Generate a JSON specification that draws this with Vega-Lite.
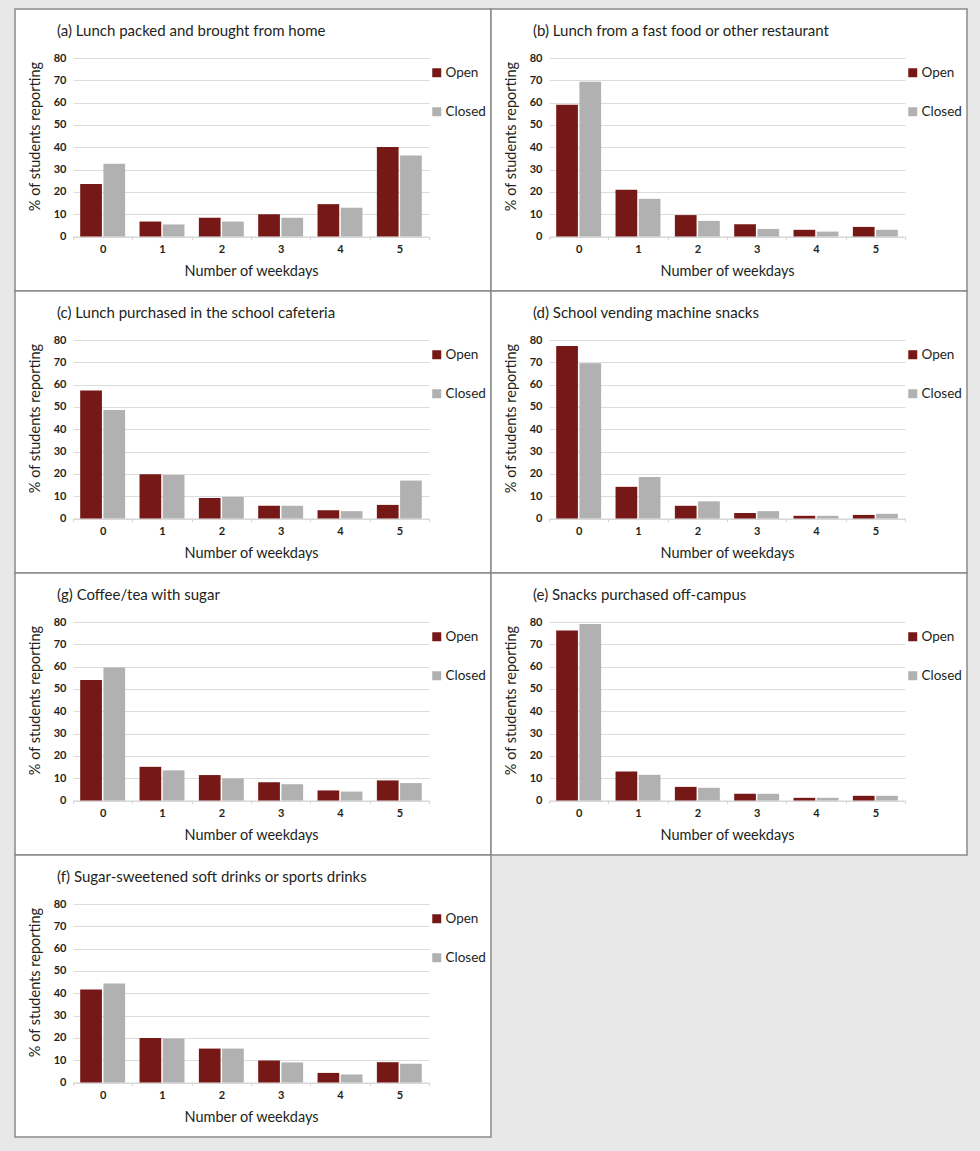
{
  "$schema": "https://vega.github.io/schema/vega-lite/v6.json",
  "padding": {"left": 14, "top": 8, "right": 14, "bottom": 15},
  "background": "#e8e8e8",
  "datasets": {
    "rows": [
      {"panel": "a", "days": "0", "status": "Open", "value": 23.5},
      {"panel": "a", "days": "0", "status": "Closed", "value": 32.6},
      {"panel": "a", "days": "1", "status": "Open", "value": 6.7},
      {"panel": "a", "days": "1", "status": "Closed", "value": 5.4},
      {"panel": "a", "days": "2", "status": "Open", "value": 8.4},
      {"panel": "a", "days": "2", "status": "Closed", "value": 6.7},
      {"panel": "a", "days": "3", "status": "Open", "value": 10.0},
      {"panel": "a", "days": "3", "status": "Closed", "value": 8.4},
      {"panel": "a", "days": "4", "status": "Open", "value": 14.5},
      {"panel": "a", "days": "4", "status": "Closed", "value": 12.9},
      {"panel": "a", "days": "5", "status": "Open", "value": 40.1},
      {"panel": "a", "days": "5", "status": "Closed", "value": 36.3},
      {"panel": "b", "days": "0", "status": "Open", "value": 59.0},
      {"panel": "b", "days": "0", "status": "Closed", "value": 69.4},
      {"panel": "b", "days": "1", "status": "Open", "value": 20.9},
      {"panel": "b", "days": "1", "status": "Closed", "value": 16.9},
      {"panel": "b", "days": "2", "status": "Open", "value": 9.6},
      {"panel": "b", "days": "2", "status": "Closed", "value": 7.0},
      {"panel": "b", "days": "3", "status": "Open", "value": 5.5},
      {"panel": "b", "days": "3", "status": "Closed", "value": 3.4},
      {"panel": "b", "days": "4", "status": "Open", "value": 3.0},
      {"panel": "b", "days": "4", "status": "Closed", "value": 2.2},
      {"panel": "b", "days": "5", "status": "Open", "value": 4.3},
      {"panel": "b", "days": "5", "status": "Closed", "value": 3.0},
      {"panel": "c", "days": "0", "status": "Open", "value": 57.4},
      {"panel": "c", "days": "0", "status": "Closed", "value": 48.6},
      {"panel": "c", "days": "1", "status": "Open", "value": 19.8},
      {"panel": "c", "days": "1", "status": "Closed", "value": 19.5},
      {"panel": "c", "days": "2", "status": "Open", "value": 9.2},
      {"panel": "c", "days": "2", "status": "Closed", "value": 9.7},
      {"panel": "c", "days": "3", "status": "Open", "value": 5.7},
      {"panel": "c", "days": "3", "status": "Closed", "value": 5.7},
      {"panel": "c", "days": "4", "status": "Open", "value": 3.7},
      {"panel": "c", "days": "4", "status": "Closed", "value": 3.3},
      {"panel": "c", "days": "5", "status": "Open", "value": 6.1},
      {"panel": "c", "days": "5", "status": "Closed", "value": 17.0},
      {"panel": "d", "days": "0", "status": "Open", "value": 77.3},
      {"panel": "d", "days": "0", "status": "Closed", "value": 69.6},
      {"panel": "d", "days": "1", "status": "Open", "value": 14.2},
      {"panel": "d", "days": "1", "status": "Closed", "value": 18.6},
      {"panel": "d", "days": "2", "status": "Open", "value": 5.7},
      {"panel": "d", "days": "2", "status": "Closed", "value": 7.7},
      {"panel": "d", "days": "3", "status": "Open", "value": 2.5},
      {"panel": "d", "days": "3", "status": "Closed", "value": 3.3},
      {"panel": "d", "days": "4", "status": "Open", "value": 1.2},
      {"panel": "d", "days": "4", "status": "Closed", "value": 1.2},
      {"panel": "d", "days": "5", "status": "Open", "value": 1.6},
      {"panel": "d", "days": "5", "status": "Closed", "value": 2.1},
      {"panel": "g", "days": "0", "status": "Open", "value": 54.0},
      {"panel": "g", "days": "0", "status": "Closed", "value": 59.6},
      {"panel": "g", "days": "1", "status": "Open", "value": 15.1},
      {"panel": "g", "days": "1", "status": "Closed", "value": 13.5},
      {"panel": "g", "days": "2", "status": "Open", "value": 11.4},
      {"panel": "g", "days": "2", "status": "Closed", "value": 9.9},
      {"panel": "g", "days": "3", "status": "Open", "value": 8.2},
      {"panel": "g", "days": "3", "status": "Closed", "value": 7.3},
      {"panel": "g", "days": "4", "status": "Open", "value": 4.5},
      {"panel": "g", "days": "4", "status": "Closed", "value": 4.0},
      {"panel": "g", "days": "5", "status": "Open", "value": 9.0},
      {"panel": "g", "days": "5", "status": "Closed", "value": 7.8},
      {"panel": "e", "days": "0", "status": "Open", "value": 76.2},
      {"panel": "e", "days": "0", "status": "Closed", "value": 79.1},
      {"panel": "e", "days": "1", "status": "Open", "value": 13.0},
      {"panel": "e", "days": "1", "status": "Closed", "value": 11.5},
      {"panel": "e", "days": "2", "status": "Open", "value": 6.1},
      {"panel": "e", "days": "2", "status": "Closed", "value": 5.7},
      {"panel": "e", "days": "3", "status": "Open", "value": 3.0},
      {"panel": "e", "days": "3", "status": "Closed", "value": 3.0},
      {"panel": "e", "days": "4", "status": "Open", "value": 1.2},
      {"panel": "e", "days": "4", "status": "Closed", "value": 1.2},
      {"panel": "e", "days": "5", "status": "Open", "value": 2.1},
      {"panel": "e", "days": "5", "status": "Closed", "value": 2.1},
      {"panel": "f", "days": "0", "status": "Open", "value": 41.7},
      {"panel": "f", "days": "0", "status": "Closed", "value": 44.4},
      {"panel": "f", "days": "1", "status": "Open", "value": 20.0},
      {"panel": "f", "days": "1", "status": "Closed", "value": 19.7},
      {"panel": "f", "days": "2", "status": "Open", "value": 15.2},
      {"panel": "f", "days": "2", "status": "Closed", "value": 15.2},
      {"panel": "f", "days": "3", "status": "Open", "value": 9.9},
      {"panel": "f", "days": "3", "status": "Closed", "value": 9.0},
      {"panel": "f", "days": "4", "status": "Open", "value": 4.3},
      {"panel": "f", "days": "4", "status": "Closed", "value": 3.6},
      {"panel": "f", "days": "5", "status": "Open", "value": 9.1},
      {"panel": "f", "days": "5", "status": "Closed", "value": 8.4}
    ]
  },
  "data": {"name": "rows"},
  "columns": 2,
  "spacing": 0,
  "bounds": "flush",
  "resolve": {
    "scale": {"x": "independent", "y": "independent", "xOffset": "independent", "color": "independent"},
    "axis": {"x": "independent", "y": "independent"},
    "legend": {"color": "independent"}
  },
  "concat": [
    {
      "title": "(a) Lunch packed and brought from home",
      "width": 476, "height": 282,
      "transform": [{"filter": "datum.panel === 'a'"}],
      "mark": "bar",
      "encoding": {
        "x": {"field": "days", "type": "ordinal", "scale": {"range": [58, 414], "paddingInner": 0, "paddingOuter": 0}, "axis": {"title": "Number of weekdays", "offset": -54.5}},
        "xOffset": {"field": "status", "sort": ["Open", "Closed"], "scale": {"paddingInner": 0.065, "paddingOuter": 0.31}},
        "y": {"field": "value", "type": "quantitative", "scale": {"domain": [0, 80], "range": [227.5, 49], "nice": false}, "axis": {"title": "% of students reporting", "offset": -58, "titleY": 127}},
        "color": {"field": "status", "sort": ["Open", "Closed"], "scale": {"domain": ["Open", "Closed"], "range": ["#761816", "#b1b1b1"]}}
      }
    },
    {
      "title": "(b) Lunch from a fast food or other restaurant",
      "width": 476, "height": 282,
      "transform": [{"filter": "datum.panel === 'b'"}],
      "mark": "bar",
      "encoding": {
        "x": {"field": "days", "type": "ordinal", "scale": {"range": [58, 414], "paddingInner": 0, "paddingOuter": 0}, "axis": {"title": "Number of weekdays", "offset": -54.5}},
        "xOffset": {"field": "status", "sort": ["Open", "Closed"], "scale": {"paddingInner": 0.065, "paddingOuter": 0.31}},
        "y": {"field": "value", "type": "quantitative", "scale": {"domain": [0, 80], "range": [227.5, 49], "nice": false}, "axis": {"title": "% of students reporting", "offset": -58, "titleY": 127}},
        "color": {"field": "status", "sort": ["Open", "Closed"], "scale": {"domain": ["Open", "Closed"], "range": ["#761816", "#b1b1b1"]}}
      }
    },
    {
      "title": "(c) Lunch purchased in the school cafeteria",
      "width": 476, "height": 282,
      "transform": [{"filter": "datum.panel === 'c'"}],
      "mark": "bar",
      "encoding": {
        "x": {"field": "days", "type": "ordinal", "scale": {"range": [58, 414], "paddingInner": 0, "paddingOuter": 0}, "axis": {"title": "Number of weekdays", "offset": -54.5}},
        "xOffset": {"field": "status", "sort": ["Open", "Closed"], "scale": {"paddingInner": 0.065, "paddingOuter": 0.31}},
        "y": {"field": "value", "type": "quantitative", "scale": {"domain": [0, 80], "range": [227.5, 49], "nice": false}, "axis": {"title": "% of students reporting", "offset": -58, "titleY": 127}},
        "color": {"field": "status", "sort": ["Open", "Closed"], "scale": {"domain": ["Open", "Closed"], "range": ["#761816", "#b1b1b1"]}}
      }
    },
    {
      "title": "(d) School vending machine snacks",
      "width": 476, "height": 282,
      "transform": [{"filter": "datum.panel === 'd'"}],
      "mark": "bar",
      "encoding": {
        "x": {"field": "days", "type": "ordinal", "scale": {"range": [58, 414], "paddingInner": 0, "paddingOuter": 0}, "axis": {"title": "Number of weekdays", "offset": -54.5}},
        "xOffset": {"field": "status", "sort": ["Open", "Closed"], "scale": {"paddingInner": 0.065, "paddingOuter": 0.31}},
        "y": {"field": "value", "type": "quantitative", "scale": {"domain": [0, 80], "range": [227.5, 49], "nice": false}, "axis": {"title": "% of students reporting", "offset": -58, "titleY": 127}},
        "color": {"field": "status", "sort": ["Open", "Closed"], "scale": {"domain": ["Open", "Closed"], "range": ["#761816", "#b1b1b1"]}}
      }
    },
    {
      "title": "(g) Coffee/tea with sugar",
      "width": 476, "height": 282,
      "transform": [{"filter": "datum.panel === 'g'"}],
      "mark": "bar",
      "encoding": {
        "x": {"field": "days", "type": "ordinal", "scale": {"range": [58, 414], "paddingInner": 0, "paddingOuter": 0}, "axis": {"title": "Number of weekdays", "offset": -54.5}},
        "xOffset": {"field": "status", "sort": ["Open", "Closed"], "scale": {"paddingInner": 0.065, "paddingOuter": 0.31}},
        "y": {"field": "value", "type": "quantitative", "scale": {"domain": [0, 80], "range": [227.5, 49], "nice": false}, "axis": {"title": "% of students reporting", "offset": -58, "titleY": 127}},
        "color": {"field": "status", "sort": ["Open", "Closed"], "scale": {"domain": ["Open", "Closed"], "range": ["#761816", "#b1b1b1"]}}
      }
    },
    {
      "title": "(e) Snacks purchased off-campus",
      "width": 476, "height": 282,
      "transform": [{"filter": "datum.panel === 'e'"}],
      "mark": "bar",
      "encoding": {
        "x": {"field": "days", "type": "ordinal", "scale": {"range": [58, 414], "paddingInner": 0, "paddingOuter": 0}, "axis": {"title": "Number of weekdays", "offset": -54.5}},
        "xOffset": {"field": "status", "sort": ["Open", "Closed"], "scale": {"paddingInner": 0.065, "paddingOuter": 0.31}},
        "y": {"field": "value", "type": "quantitative", "scale": {"domain": [0, 80], "range": [227.5, 49], "nice": false}, "axis": {"title": "% of students reporting", "offset": -58, "titleY": 127}},
        "color": {"field": "status", "sort": ["Open", "Closed"], "scale": {"domain": ["Open", "Closed"], "range": ["#761816", "#b1b1b1"]}}
      }
    },
    {
      "title": "(f) Sugar-sweetened soft drinks or sports drinks",
      "width": 476, "height": 282,
      "transform": [{"filter": "datum.panel === 'f'"}],
      "mark": "bar",
      "encoding": {
        "x": {"field": "days", "type": "ordinal", "scale": {"range": [58, 414], "paddingInner": 0, "paddingOuter": 0}, "axis": {"title": "Number of weekdays", "offset": -54.5}},
        "xOffset": {"field": "status", "sort": ["Open", "Closed"], "scale": {"paddingInner": 0.065, "paddingOuter": 0.31}},
        "y": {"field": "value", "type": "quantitative", "scale": {"domain": [0, 80], "range": [227.5, 49], "nice": false}, "axis": {"title": "% of students reporting", "offset": -58, "titleY": 127}},
        "color": {"field": "status", "sort": ["Open", "Closed"], "scale": {"domain": ["Open", "Closed"], "range": ["#761816", "#b1b1b1"]}}
      }
    }
  ],
  "config": {
    "font": "Lato",
    "view": {"fill": "white", "stroke": "#8a8a8a", "strokeWidth": 1.5},
    "title": {
      "anchor": "start", "frame": "group", "dx": 42, "offset": -30, "baseline": "middle",
      "fontSize": 15, "fontWeight": "normal", "color": "#231f20"
    },
    "axis": {
      "labelFont": "Lato", "labelFontSize": 11, "labelFontWeight": "bold", "labelColor": "#231f20",
      "titleFont": "Lato", "titleFontSize": 14.5, "titleFontWeight": "normal", "titleColor": "#231f20"
    },
    "axisX": {
      "labelAngle": 0, "grid": false, "domainColor": "#d4d4d4", "domainWidth": 1,
      "ticks": true, "tickBand": "extent", "tickSize": 3, "tickColor": "#d4d4d4",
      "labelPadding": 4, "titlePadding": 10
    },
    "axisY": {
      "values": [0, 10, 20, 30, 40, 50, 60, 70, 80],
      "domain": false, "ticks": false, "tickSize": 0, "labelPadding": 7,
      "grid": true, "gridColor": "#dcdcdc", "gridWidth": 1, "titlePadding": 11
    },
    "legend": {
      "orient": "none", "legendX": 415, "legendY": 57, "title": null,
      "symbolType": "square", "symbolSize": 81, "symbolStrokeWidth": 0,
      "labelFont": "Lato", "labelFontSize": 13.5, "labelColor": "#231f20", "labelOffset": 2,
      "rowPadding": 24
    }
  }
}
